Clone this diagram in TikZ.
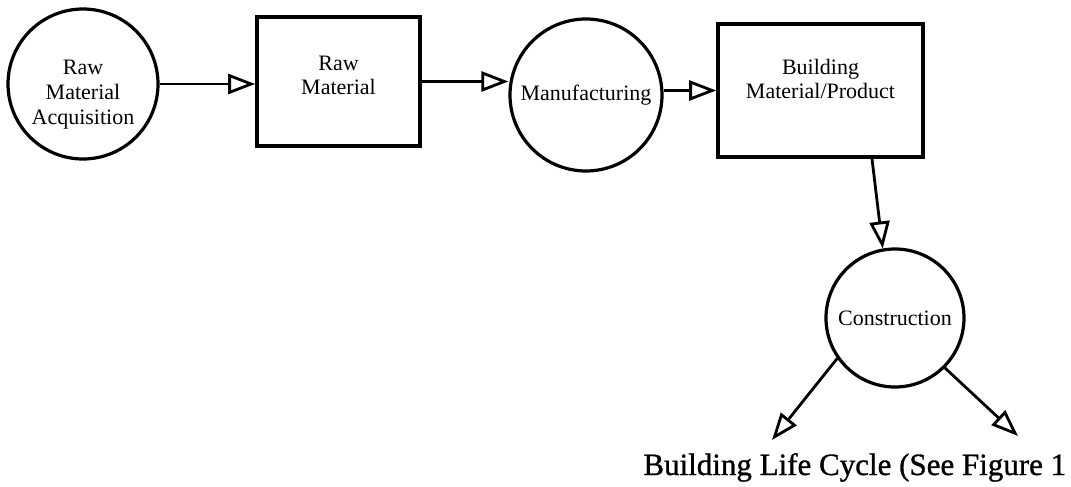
\documentclass[tikz,border=0pt]{standalone}
\usepackage{fontspec}
\setmainfont{Liberation Serif}
\newfontfamily\heavyserif[FakeBold=1]{Liberation Serif}
\usetikzlibrary{arrows.meta}
\tikzset{
  stage/.style={draw, circle, line width=1.6pt, inner sep=0pt, align=center,
    font=\fontsize{11}{12.5}\selectfont},
  item/.style={draw, rectangle, line width=1.8pt, inner sep=0pt, align=center,
    font=\fontsize{11}{12}\selectfont},
  flow/.style={line width=1.4pt, -{Triangle[open,length=13.5pt,width=10pt]}}
}
\begin{document}
\begin{tikzpicture}[x=0.5pt, y=-0.5pt]
\useasboundingbox (0,0) rectangle (1071,487);
% stages and products
\node[stage, minimum size=75pt, text height=43pt] (acq) at (83,84) {Raw\\Material\\Acquisition};
\node[item, minimum width=81.5pt, minimum height=64.5pt, text depth=6pt] (raw) at (338.5,81.5) {Raw\\Material};
\node[stage, minimum size=76pt] (mfg) at (586,95) {Manufacturing};
\node[item, minimum width=102.5pt, minimum height=66.5pt, text depth=12pt] (bld) at (820.5,90.5) {Building\\Material/Product};
\node[stage, minimum size=69pt] (con) at (895,318) {Construction};
\coordinate (lt) at (772,440);
\coordinate (rt) at (1018,436);
\node[anchor=base west, inner sep=0pt, font=\heavyserif\fontsize{15.5}{19}\selectfont] (life) at (643,475) {Building Life Cycle (See Figure 1};

% flows
\draw[flow] (acq.east) -- (acq.east -| raw.west);
\draw[flow] (raw.east) -- (raw.east -| mfg.west);
\draw[flow] (bld.west -| mfg.east) -- (bld.west);
\draw[flow] ([xshift=25.75pt]bld.south) -- (con.100);
\draw[flow] (con.215) -- (lt);
\draw[flow] (con.315) -- (rt);
\end{tikzpicture}
\end{document}
